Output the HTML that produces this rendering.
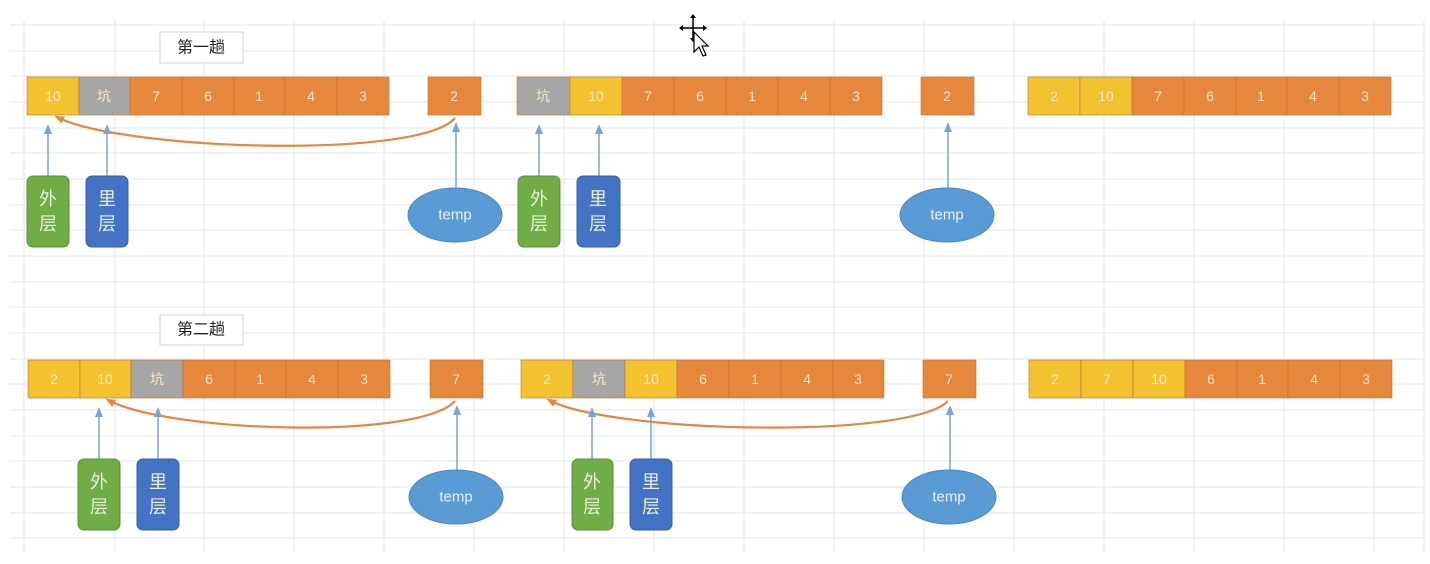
<!DOCTYPE html>
<html><head><meta charset="utf-8"><style>
html,body{margin:0;padding:0;background:#fff;}
svg{display:block;font-family:"Liberation Sans","Noto Sans CJK SC",sans-serif;}
.ct{fill:#fbe7c6;font-size:14px;text-anchor:middle;dominant-baseline:central;}
.pt{fill:#e6f0da;font-size:18px;text-anchor:middle;dominant-baseline:central;}
</style></head><body>
<svg width="1430" height="564" viewBox="0 0 1430 564" xmlns="http://www.w3.org/2000/svg">
<defs>
<marker id="ab" markerUnits="userSpaceOnUse" markerWidth="10" markerHeight="10" refX="5" refY="5" orient="auto"><path d="M0,1 L10,5 L0,9 z" fill="#7aa3d6"/></marker>
<marker id="ao" markerUnits="userSpaceOnUse" markerWidth="10" markerHeight="10" refX="7" refY="5" orient="auto"><path d="M0,1 L10,5 L0,9 z" fill="#e5873c"/></marker>
</defs>
<g stroke="#e3e6eb" stroke-width="1">
<line x1="10" y1="25" x2="1425" y2="25"/><line x1="10" y1="51" x2="1425" y2="51"/><line x1="10" y1="76" x2="1425" y2="76"/><line x1="10" y1="102" x2="1425" y2="102"/><line x1="10" y1="128" x2="1425" y2="128"/><line x1="10" y1="153" x2="1425" y2="153"/><line x1="10" y1="179" x2="1425" y2="179"/><line x1="10" y1="205" x2="1425" y2="205"/><line x1="10" y1="230" x2="1425" y2="230"/><line x1="10" y1="256" x2="1425" y2="256"/><line x1="10" y1="282" x2="1425" y2="282"/><line x1="10" y1="307" x2="1425" y2="307"/><line x1="10" y1="333" x2="1425" y2="333"/><line x1="10" y1="359" x2="1425" y2="359"/><line x1="10" y1="384" x2="1425" y2="384"/><line x1="10" y1="410" x2="1425" y2="410"/><line x1="10" y1="436" x2="1425" y2="436"/><line x1="10" y1="461" x2="1425" y2="461"/><line x1="10" y1="487" x2="1425" y2="487"/><line x1="10" y1="513" x2="1425" y2="513"/><line x1="10" y1="538" x2="1425" y2="538"/>
<line x1="24" y1="20" x2="24" y2="552"/><line x1="115" y1="20" x2="115" y2="552"/><line x1="204" y1="20" x2="204" y2="552"/><line x1="294" y1="20" x2="294" y2="552"/><line x1="384" y1="20" x2="384" y2="552"/><line x1="474" y1="20" x2="474" y2="552"/><line x1="564" y1="20" x2="564" y2="552"/><line x1="654" y1="20" x2="654" y2="552"/><line x1="744" y1="20" x2="744" y2="552"/><line x1="834" y1="20" x2="834" y2="552"/><line x1="924" y1="20" x2="924" y2="552"/><line x1="1014" y1="20" x2="1014" y2="552"/><line x1="1104" y1="20" x2="1104" y2="552"/><line x1="1194" y1="20" x2="1194" y2="552"/><line x1="1284" y1="20" x2="1284" y2="552"/><line x1="1374" y1="20" x2="1374" y2="552"/><line x1="1424" y1="20" x2="1424" y2="552"/>
</g>

<rect x="160" y="32" width="83" height="31" fill="#fff" stroke="#d0d0d0"/>
<text x="201" y="48" font-size="16" text-anchor="middle" dominant-baseline="central" fill="#222">第一趟</text>
<rect x="160" y="315" width="83" height="30" fill="#fff" stroke="#d0d0d0"/>
<text x="201" y="330" font-size="16" text-anchor="middle" dominant-baseline="central" fill="#222">第二趟</text>

<g stroke="#c46f2c" stroke-width="0.6">
<rect x="27" y="77" width="52" height="38" fill="#f2c230"/><rect x="79" y="77" width="51" height="38" fill="#a6a6a6"/><rect x="130" y="77" width="52" height="38" fill="#e5873c"/><rect x="182" y="77" width="52" height="38" fill="#e5873c"/><rect x="234" y="77" width="51" height="38" fill="#e5873c"/><rect x="285" y="77" width="52" height="38" fill="#e5873c"/><rect x="337" y="77" width="52" height="38" fill="#e5873c"/>
<rect x="428" y="77" width="53" height="38" fill="#e5873c"/>
<rect x="517" y="77" width="53" height="38" fill="#a6a6a6"/><rect x="570" y="77" width="52" height="38" fill="#f2c230"/><rect x="622" y="77" width="52" height="38" fill="#e5873c"/><rect x="674" y="77" width="52" height="38" fill="#e5873c"/><rect x="726" y="77" width="52" height="38" fill="#e5873c"/><rect x="778" y="77" width="52" height="38" fill="#e5873c"/><rect x="830" y="77" width="52" height="38" fill="#e5873c"/>
<rect x="921" y="77" width="53" height="38" fill="#e5873c"/>
<rect x="1028" y="77" width="52" height="38" fill="#f2c230"/><rect x="1080" y="77" width="52" height="38" fill="#f2c230"/><rect x="1132" y="77" width="52" height="38" fill="#e5873c"/><rect x="1184" y="77" width="52" height="38" fill="#e5873c"/><rect x="1236" y="77" width="51" height="38" fill="#e5873c"/><rect x="1287" y="77" width="52" height="38" fill="#e5873c"/><rect x="1339" y="77" width="52" height="38" fill="#e5873c"/>

<rect x="28" y="360" width="52" height="38" fill="#f2c230"/><rect x="80" y="360" width="51" height="38" fill="#f2c230"/><rect x="131" y="360" width="52" height="38" fill="#a6a6a6"/><rect x="183" y="360" width="52" height="38" fill="#e5873c"/><rect x="235" y="360" width="51" height="38" fill="#e5873c"/><rect x="286" y="360" width="52" height="38" fill="#e5873c"/><rect x="338" y="360" width="52" height="38" fill="#e5873c"/>
<rect x="430" y="360" width="53" height="38" fill="#e5873c"/>
<rect x="521" y="360" width="52" height="38" fill="#f2c230"/><rect x="573" y="360" width="52" height="38" fill="#a6a6a6"/><rect x="625" y="360" width="52" height="38" fill="#f2c230"/><rect x="677" y="360" width="52" height="38" fill="#e5873c"/><rect x="729" y="360" width="52" height="38" fill="#e5873c"/><rect x="781" y="360" width="52" height="38" fill="#e5873c"/><rect x="833" y="360" width="51" height="38" fill="#e5873c"/>
<rect x="923" y="360" width="53" height="38" fill="#e5873c"/>
<rect x="1029" y="360" width="52" height="38" fill="#f2c230"/><rect x="1081" y="360" width="52" height="38" fill="#f2c230"/><rect x="1133" y="360" width="52" height="38" fill="#f2c230"/><rect x="1185" y="360" width="52" height="38" fill="#e5873c"/><rect x="1237" y="360" width="51" height="38" fill="#e5873c"/><rect x="1288" y="360" width="52" height="38" fill="#e5873c"/><rect x="1340" y="360" width="52" height="38" fill="#e5873c"/>
</g>
<g class="ct">
<text x="53" y="96">10</text><text x="104" y="96">坑</text><text x="156" y="96">7</text><text x="208" y="96">6</text><text x="259" y="96">1</text><text x="311" y="96">4</text><text x="363" y="96">3</text><text x="454" y="96">2</text>
<text x="543" y="96">坑</text><text x="596" y="96">10</text><text x="648" y="96">7</text><text x="700" y="96">6</text><text x="752" y="96">1</text><text x="804" y="96">4</text><text x="856" y="96">3</text><text x="947" y="96">2</text>
<text x="1054" y="96">2</text><text x="1106" y="96">10</text><text x="1158" y="96">7</text><text x="1210" y="96">6</text><text x="1261" y="96">1</text><text x="1313" y="96">4</text><text x="1365" y="96">3</text>
<text x="54" y="379">2</text><text x="105" y="379">10</text><text x="157" y="379">坑</text><text x="209" y="379">6</text><text x="260" y="379">1</text><text x="312" y="379">4</text><text x="364" y="379">3</text><text x="456" y="379">7</text>
<text x="547" y="379">2</text><text x="599" y="379">坑</text><text x="651" y="379">10</text><text x="703" y="379">6</text><text x="755" y="379">1</text><text x="807" y="379">4</text><text x="858" y="379">3</text><text x="949" y="379">7</text>
<text x="1055" y="379">2</text><text x="1107" y="379">7</text><text x="1159" y="379">10</text><text x="1211" y="379">6</text><text x="1262" y="379">1</text><text x="1314" y="379">4</text><text x="1366" y="379">3</text>
</g>

<g fill="none" stroke="#e5873c" stroke-width="2.2" marker-end="url(#ao)">
<path d="M455,118 C420,160 120,150 57,117"/>
<path d="M455,401 C420,440 170,433 108,400"/>
<path d="M948,401 C910,440 610,433 549,400"/>
</g>

<g stroke="#7aa3d6" stroke-width="1.5" marker-end="url(#ab)">
<line x1="48" y1="176" x2="48" y2="129"/><line x1="107" y1="176" x2="107" y2="129"/><line x1="456" y1="188" x2="456" y2="127"/>
<line x1="539" y1="176" x2="539" y2="129"/><line x1="599" y1="176" x2="599" y2="129"/><line x1="948" y1="188" x2="948" y2="127"/>
<line x1="99" y1="459" x2="99" y2="412"/><line x1="158" y1="459" x2="158" y2="412"/><line x1="457" y1="470" x2="457" y2="410"/>
<line x1="592" y1="459" x2="592" y2="412"/><line x1="651" y1="459" x2="651" y2="412"/><line x1="950" y1="470" x2="950" y2="410"/>
</g>

<g stroke-width="1">
<rect x="27" y="176" width="42" height="71" rx="6" fill="#70ad47" stroke="#5a8f37"/>
<rect x="86" y="176" width="42" height="71" rx="6" fill="#4472c4" stroke="#365ea8"/>
<rect x="518" y="176" width="42" height="71" rx="6" fill="#70ad47" stroke="#5a8f37"/>
<rect x="577" y="176" width="43" height="71" rx="6" fill="#4472c4" stroke="#365ea8"/>
<rect x="78" y="459" width="42" height="71" rx="6" fill="#70ad47" stroke="#5a8f37"/>
<rect x="137" y="459" width="42" height="71" rx="6" fill="#4472c4" stroke="#365ea8"/>
<rect x="572" y="459" width="41" height="71" rx="6" fill="#70ad47" stroke="#5a8f37"/>
<rect x="630" y="459" width="42" height="71" rx="6" fill="#4472c4" stroke="#365ea8"/>
</g>
<g class="pt">
<text x="48" y="199">外</text><text x="48" y="224">层</text>
<text x="107" y="199">里</text><text x="107" y="224">层</text>
<text x="539" y="199">外</text><text x="539" y="224">层</text>
<text x="598" y="199">里</text><text x="598" y="224">层</text>
<text x="99" y="482">外</text><text x="99" y="507">层</text>
<text x="158" y="482">里</text><text x="158" y="507">层</text>
<text x="592" y="482">外</text><text x="592" y="507">层</text>
<text x="651" y="482">里</text><text x="651" y="507">层</text>
</g>

<g fill="#5b9bd5" stroke="#4a86c0" stroke-width="1">
<ellipse cx="455" cy="215" rx="47" ry="27"/><ellipse cx="947" cy="215" rx="47" ry="27"/>
<ellipse cx="456" cy="497" rx="47" ry="27"/><ellipse cx="949" cy="497" rx="47" ry="27"/>
</g>
<g fill="#e8f1fa" font-size="15" text-anchor="middle" dominant-baseline="central">
<text x="455" y="215">temp</text><text x="947" y="215">temp</text><text x="456" y="497">temp</text><text x="949" y="497">temp</text>
</g>

<g transform="translate(693,28)">
<path d="M0,-12 L0,12 M-12,0 L12,0" stroke="#000" stroke-width="1.5"/>
<path d="M0,-14 l-3,4 h6z M0,14 l-3,-4 h6z M-14,0 l4,-3 v6z M14,0 l-4,-3 v6z" fill="#000"/>
<path d="M1,4 L1,24 L6,19 L10,28 L13,27 L9,18 L15,18 Z" fill="#fff" stroke="#000" stroke-width="1.2"/>
</g>
</svg>
</body></html>
